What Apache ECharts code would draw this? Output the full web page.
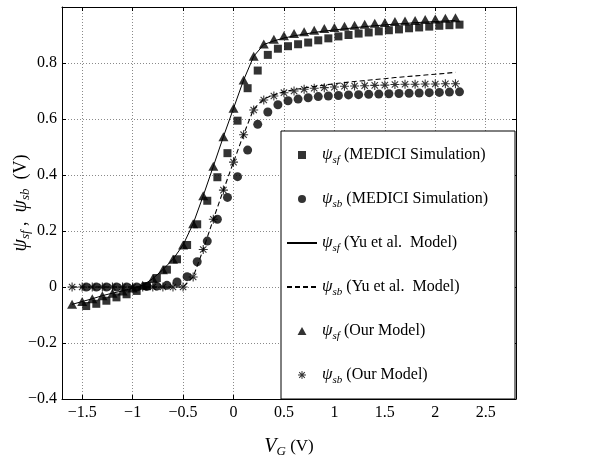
<!DOCTYPE html>
<html>
<head>
<meta charset="utf-8">
<script src="https://cdn.jsdelivr.net/npm/echarts@6/dist/echarts.min.js"></script>
<style>
html,body{margin:0;padding:0;background:#fff;}
#chart{width:602px;height:456px;}
</style>
</head>
<body>
<div id="chart"></div>
<script>
// ---- data ----
const vgModel = [-1.6,-1.5,-1.4,-1.3,-1.2,-1.1,-1.0,-0.9,-0.8,-0.7,-0.6,-0.5,-0.4,-0.3,-0.2,-0.1,0,0.1,0.2,0.3,0.4,0.5,0.6,0.7,0.8,0.9,1.0,1.1,1.2,1.3,1.4,1.5,1.6,1.7,1.8,1.9,2.0,2.1,2.2];
const psiSfOur = [-0.062,-0.052,-0.042,-0.031,-0.022,-0.014,-0.004,0.006,0.030,0.062,0.099,0.150,0.226,0.326,0.431,0.537,0.638,0.739,0.824,0.868,0.885,0.897,0.905,0.912,0.917,0.923,0.927,0.931,0.935,0.938,0.942,0.945,0.948,0.950,0.952,0.955,0.957,0.960,0.962];
const psiSbOur = [0,0,0,0,0,0,0,0,0,0,0,0,0.036,0.134,0.242,0.346,0.446,0.544,0.632,0.668,0.682,0.694,0.700,0.706,0.710,0.712,0.714,0.717,0.718,0.719,0.720,0.721,0.723,0.724,0.724,0.725,0.725,0.726,0.726];
const psiSfYu = [-0.062,-0.052,-0.042,-0.031,-0.022,-0.014,-0.004,0.006,0.030,0.062,0.099,0.150,0.226,0.326,0.431,0.537,0.638,0.739,0.824,0.866,0.879,0.889,0.897,0.903,0.909,0.914,0.918,0.922,0.926,0.930,0.933,0.936,0.939,0.941,0.944,0.946,0.948,0.950,0.952];
const psiSbYu = [0,0,0,0,0,0,0,0,0,0,0,0,0.036,0.134,0.242,0.346,0.446,0.545,0.636,0.672,0.686,0.697,0.705,0.711,0.716,0.721,0.726,0.730,0.734,0.737,0.741,0.744,0.748,0.751,0.754,0.757,0.760,0.763,0.767];

const vgMedici = [-1.46,-1.36,-1.26,-1.16,-1.06,-0.96,-0.86,-0.76,-0.66,-0.56,-0.46,-0.36,-0.26,-0.16,-0.06,0.04,0.14,0.24,0.34,0.44,0.54,0.64,0.74,0.84,0.94,1.04,1.14,1.24,1.34,1.44,1.54,1.64,1.74,1.84,1.94,2.04,2.14,2.24];
const psiSfMedici = [-0.068,-0.060,-0.049,-0.037,-0.026,-0.014,0.003,0.032,0.062,0.099,0.150,0.224,0.308,0.392,0.478,0.594,0.710,0.773,0.829,0.851,0.860,0.867,0.873,0.881,0.888,0.895,0.900,0.905,0.909,0.913,0.917,0.920,0.924,0.927,0.930,0.933,0.935,0.937];
const psiSbMedici = [0,0,0,0,0,0,0.002,0.003,0.006,0.018,0.037,0.090,0.164,0.242,0.320,0.394,0.489,0.581,0.625,0.651,0.665,0.671,0.676,0.680,0.682,0.684,0.686,0.687,0.688,0.689,0.690,0.691,0.692,0.693,0.694,0.695,0.696,0.697];

const xTicksShown = [-1.5,-1,-0.5,0,0.5,1,1.5,2,2.5];
const legendLabels = {
  sfMedici: '{i|ψ}{s|sf} (MEDICI Simulation)',
  sbMedici: '{i|ψ}{s|sb} (MEDICI Simulation)',
  sfYu: '{i|ψ}{s|sf} (Yu et al.  Model)',
  sbYu: '{i|ψ}{s|sb} (Yu et al.  Model)',
  sfOur: '{i|ψ}{s|sf} (Our Model)',
  sbOur: '{i|ψ}{s|sb} (Our Model)'
};

// ---- helpers ----
const FONT = 'Liberation Serif';
function pairs(xs, ys){ return xs.map((x,i)=>[x, ys[i]]); }
function fmt(v){
  const n = Math.round(v*10)/10;
  if (n === 0) return '0';
  return (n < 0 ? '\u2212' : '') + String(Math.abs(n));
}
const squareSym = 'path://M0,0L1,0L1,1L0,1Z';
const triangleSym = 'path://M0.5,0L1,0.9L0,0.9Z';
const asterisk = 'path://M-0.12,-1L0.12,-1L0.12,1L-0.12,1Z M-1,-0.12L1,-0.12L1,0.12L-1,0.12Z M-0.792,-0.622L-0.622,-0.792L0.792,0.622L0.622,0.792Z M-0.622,0.792L-0.792,0.622L0.622,-0.792L0.792,-0.622Z';

const richStyles = {
  i: {fontFamily: FONT, fontStyle: 'italic', fontSize: 17, lineHeight: 22, color: '#000'},
  s: {fontFamily: FONT, fontStyle: 'italic', fontSize: 11, lineHeight: 12, verticalAlign: 'bottom', color: '#000'}
};
const richTitle = {
  i: {fontFamily: FONT, fontStyle: 'italic', fontSize: 20, lineHeight: 22, color: '#000'},
  s: {fontFamily: FONT, fontStyle: 'italic', fontSize: 13, lineHeight: 12, verticalAlign: 'bottom', color: '#000'}
};

const gridLine = {show: true, lineStyle: {color: '#8a8a8a', type: [1, 2], width: 1}};
const axisLine = {show: true, onZero: false, lineStyle: {color: '#000', width: 1}};
const tickIn = {show: true, inside: true, length: 4, lineStyle: {color: '#000'}};

const xCommon = {type: 'value', min: -1.7, max: 2.8, splitNumber: 9, minInterval: 0.5, maxInterval: 0.5};
const yCommon = {type: 'value', min: -0.4, max: 1.0, interval: 0.2};

const chart = echarts.init(document.getElementById('chart'), null, {renderer: 'canvas'});
chart.setOption({
  animation: false,
  backgroundColor: '#fff',
  grid: {left: 62, right: 86, top: 7, bottom: 57, containLabel: false, outerBoundsMode: 'none'},
  xAxis: [
    Object.assign({}, xCommon, {
      position: 'bottom',
      axisLine: axisLine, axisTick: tickIn, splitLine: gridLine,
      axisLabel: {
        margin: 6, color: '#000', fontFamily: FONT, fontSize: 16,
        formatter: v => xTicksShown.some(t => Math.abs(t - v) < 1e-6) ? fmt(v) : ''
      },
      name: '{i|V}{s|G} (V)', nameLocation: 'middle', nameGap: 37, nameMoveOverlap: false,
      nameTextStyle: {fontFamily: FONT, fontSize: 17, color: '#000', lineHeight: 22, rich: richTitle}
    }),
    Object.assign({}, xCommon, {
      position: 'top', axisLine: axisLine, axisTick: tickIn,
      axisLabel: {show: false}, splitLine: {show: false}
    })
  ],
  yAxis: [
    Object.assign({}, yCommon, {
      position: 'left',
      axisLine: axisLine, axisTick: tickIn, splitLine: gridLine,
      axisLabel: {
        margin: 5, color: '#000', fontFamily: FONT, fontSize: 16,
        formatter: v => v > 0.95 ? '' : fmt(v)
      },
      name: '{i|ψ}{s|sf} ,  {i|ψ}{s|sb}  (V)', nameLocation: 'middle', nameGap: 30, nameRotate: 90, nameMoveOverlap: false,
      nameTextStyle: {fontFamily: FONT, fontSize: 18, color: '#000', lineHeight: 22, rich: richTitle}
    }),
    Object.assign({}, yCommon, {
      position: 'right', axisLine: axisLine, axisTick: tickIn,
      axisLabel: {show: false}, splitLine: {show: false}
    })
  ],
  graphic: [{
    type: 'rect', z: 50, silent: true,
    shape: {x: 281, y: 131, width: 234, height: 268},
    style: {fill: '#fff', stroke: '#000', lineWidth: 1}
  }],
  legend: {
    orient: 'vertical', left: 286, top: 144, padding: 0,
    itemWidth: 30, itemHeight: 8, itemGap: 22, z: 100, selectedMode: false,
    symbolKeepAspect: true,
    data: [
      {name: 'sfMedici'}, {name: 'sbMedici'},
      {name: 'sfYu', itemStyle: {opacity: 0}}, {name: 'sbYu', itemStyle: {opacity: 0}},
      {name: 'sfOur'}, {name: 'sbOur'}
    ],
    formatter: name => legendLabels[name],
    textStyle: {fontFamily: FONT, fontSize: 16, color: '#000', lineHeight: 22, rich: richStyles}
  },
  series: [
    {name: 'sfMedici', type: 'scatter', data: pairs(vgMedici, psiSfMedici), symbol: squareSym, symbolSize: 8, symbolKeepAspect: true, itemStyle: {color: '#000'}, z: 3},
    {name: 'sbMedici', type: 'scatter', data: pairs(vgMedici, psiSbMedici), symbol: 'circle', symbolSize: 9, itemStyle: {color: '#000'}, z: 3},
    {name: 'sfYu', type: 'line', data: pairs(vgModel, psiSfYu), symbol: 'none', showSymbol: false, itemStyle: {color: '#000'}, lineStyle: {color: '#000', width: 1}, z: 2},
    {name: 'sbYu', type: 'line', data: pairs(vgModel, psiSbYu), symbol: 'none', showSymbol: false, itemStyle: {color: '#000'}, lineStyle: {color: '#000', width: 1.1, type: [5, 3]}, z: 2},
    {name: 'sfOur', type: 'scatter', data: pairs(vgModel, psiSfOur), symbol: triangleSym, symbolSize: 10, symbolKeepAspect: true, itemStyle: {color: '#000'}, z: 4},
    {name: 'sbOur', type: 'scatter', data: pairs(vgModel, psiSbOur), symbol: asterisk, symbolSize: 9, symbolKeepAspect: true, itemStyle: {color: '#000'}, z: 4}
  ]
});
</script>
</body>
</html>
